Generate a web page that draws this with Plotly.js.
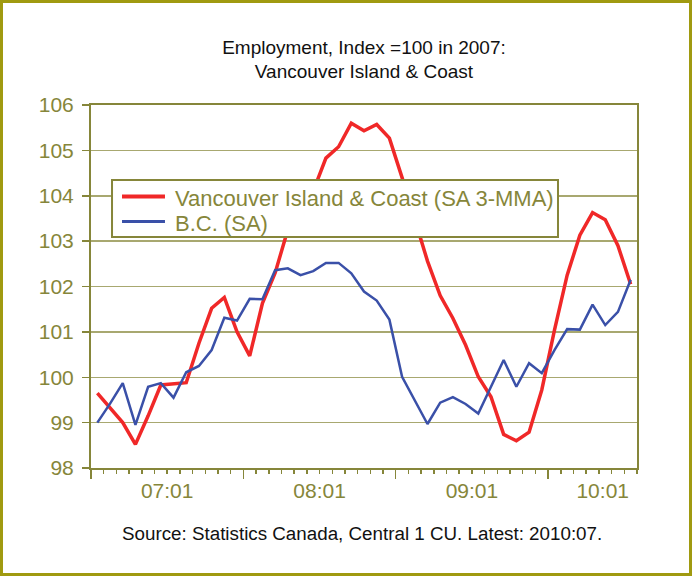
<!DOCTYPE html>
<html>
<head>
<meta charset="utf-8">
<script src="https://cdn.plot.ly/plotly-3.0.1.min.js"></script>
<style>
  html, body { margin: 0; padding: 0; background: #ffffff; }
  #wrap { position: relative; width: 692px; height: 576px; }
  #chart { position: absolute; left: 0; top: 0; width: 692px; height: 576px; }
  #frame { position: absolute; left: 0; top: 0; width: 692px; height: 576px;
           box-sizing: border-box; border: 3px solid #a09a10; pointer-events: none; }
</style>
</head>
<body>
<div id="wrap"><div id="chart"></div><div id="frame"></div></div>
<script>
// Months 2007:01 .. 2010:07
const months = [
  '07:01','07:02','07:03','07:04','07:05','07:06','07:07','07:08','07:09','07:10','07:11','07:12',
  '08:01','08:02','08:03','08:04','08:05','08:06','08:07','08:08','08:09','08:10','08:11','08:12',
  '09:01','09:02','09:03','09:04','09:05','09:06','09:07','09:08','09:09','09:10','09:11','09:12',
  '10:01','10:02','10:03','10:04','10:05','10:06','10:07'
];

const vicCoast = [
  99.65, 99.32, 99.00, 98.52, 99.15, 99.83, 99.86, 99.88, 100.75, 101.52, 101.76, 101.00,
  100.47, 101.63, 102.30, 103.25, 103.70, 104.10, 104.83, 105.08, 105.60, 105.43, 105.57, 105.27,
  104.40, 103.48, 102.56, 101.80, 101.30, 100.71, 100.01, 99.57, 98.74, 98.60, 98.79, 99.72,
  101.04, 102.25, 103.13, 103.63, 103.47, 102.90, 102.05
];

const bc = [
  99.00, 99.42, 99.87, 98.95, 99.79, 99.87, 99.55, 100.11, 100.25, 100.60, 101.31, 101.25,
  101.73, 101.72, 102.36, 102.40, 102.25, 102.34, 102.52, 102.52, 102.29, 101.89, 101.69, 101.27,
  100.01, 99.49, 98.97, 99.44, 99.56, 99.41, 99.20, 99.79, 100.38, 99.79, 100.31, 100.09,
  100.60, 101.06, 101.05, 101.60, 101.15, 101.44, 102.15
];

const seriesNames = ['Vancouver Island &amp; Coast (SA 3-MMA)', 'B.C. (SA)'];
const seriesColors = ['#f02828', '#3a50a8'];
const seriesWidths = [3.5, 2.5];
const yearLabels = ['07:01', '08:01', '09:01', '10:01'];
const yTicks = [98, 99, 100, 101, 102, 103, 104, 105, 106];

const titleText = 'Employment, Index =100 in 2007:<br>Vancouver Island &amp; Coast';
const sourceText = 'Source: Statistics Canada, Central 1 CU. Latest: 2010:07.';

// derived positions (category index)
const idx = months.map((m, i) => i);
const N = months.length;
const yearStarts = yearLabels.map(l => months.indexOf(l));
const boundaryTicks = yearStarts.map(s => s - 0.5);
// labels centred on each year's span, last one kept inside the plot
const labelPos = yearStarts.map(s => Math.min(s + 5.5, N - 3.2));

const olive = '#86863a';
const gridCol = '#a8a870';
const font = 'Liberation Sans, Arial, sans-serif';

const seriesData = [vicCoast, bc];
const traces = seriesData.map((ys, k) => ({
  x: idx, y: ys, name: seriesNames[k], type: 'scatter', mode: 'lines',
  line: { color: seriesColors[k], width: seriesWidths[k] }, showlegend: false
}));
traces.push({ x: labelPos, y: labelPos.map(() => 98), xaxis: 'x2', type: 'scatter', mode: 'markers',
  marker: { opacity: 0 }, showlegend: false, hoverinfo: 'skip' });

// legend box (drawn as shapes + text, like the original boxed legend)
const legBox = { x0: 0.0385, x1: 0.8553, y0: 0.6364, y1: 0.7934 };
const legRowY = [0.743, 0.674];
const shapes = [
  { type: 'rect', xref: 'paper', yref: 'paper', layer: 'above',
    x0: legBox.x0, x1: legBox.x1, y0: legBox.y0, y1: legBox.y1,
    fillcolor: '#ffffff', line: { color: olive, width: 2 } }
];
const annotations = [];
seriesNames.forEach((nm, k) => {
  shapes.push({ type: 'line', xref: 'paper', yref: 'paper', layer: 'above',
    x0: 0.0568, x1: 0.1355, y0: legRowY[k] + 0.005, y1: legRowY[k] + 0.005,
    line: { color: seriesColors[k], width: seriesWidths[k] + 0.5 } });
  annotations.push({ text: nm, xref: 'paper', yref: 'paper', x: 0.150, y: legRowY[k],
    xanchor: 'left', yanchor: 'middle', showarrow: false,
    font: { family: font, size: 22, color: olive } });
});
annotations.push({ text: sourceText, xref: 'paper', yref: 'paper', x: 0.497, y: -0.18, yanchor: 'middle',
  showarrow: false, font: { family: font, size: 18.8, color: '#111111' } });

const layout = {
  width: 692, height: 576,
  margin: { l: 91, r: 55, t: 105, b: 108 },
  paper_bgcolor: '#ffffff', plot_bgcolor: '#ffffff',
  font: { family: font, color: olive },
  title: { text: titleText, x: 0.5, xref: 'paper', y: 0.907, yanchor: 'middle',
           font: { family: font, size: 19, color: '#111111' } },
  showlegend: false,
  xaxis: {
    range: [-0.5, N - 0.5], fixedrange: true,
    tickmode: 'array', tickvals: boundaryTicks, showticklabels: false,
    ticks: 'outside', ticklen: 9, tickwidth: 1.5, tickcolor: olive,
    minor: { tick0: -0.5, dtick: 1, ticks: 'outside', ticklen: 4, tickwidth: 1.5, tickcolor: olive, showgrid: false },
    showline: true, linecolor: olive, linewidth: 2, mirror: true,
    showgrid: false, zeroline: false
  },
  xaxis2: {
    overlaying: 'x', anchor: 'y', side: 'bottom', matches: 'x',
    range: [-0.5, N - 0.5],
    tickmode: 'array', tickvals: labelPos, ticktext: yearLabels,
    ticks: '', showline: false, showgrid: false, zeroline: false,
    tickfont: { family: font, size: 21, color: olive }, ticklabelstandoff: 8
  },
  yaxis: {
    range: [98, 106], fixedrange: true,
    tickmode: 'array', tickvals: yTicks,
    ticks: 'outside', ticklen: 7, tickwidth: 1.5, tickcolor: olive,
    tickfont: { family: font, size: 21, color: olive },
    showline: true, linecolor: olive, linewidth: 2, mirror: true,
    showgrid: true, gridcolor: gridCol, gridwidth: 1.5, zeroline: false,
    ticklabelstandoff: 4
  },
  shapes: shapes,
  annotations: annotations
};

Plotly.newPlot('chart', traces, layout, { displayModeBar: false, staticPlot: true });
</script>
</body>
</html>
